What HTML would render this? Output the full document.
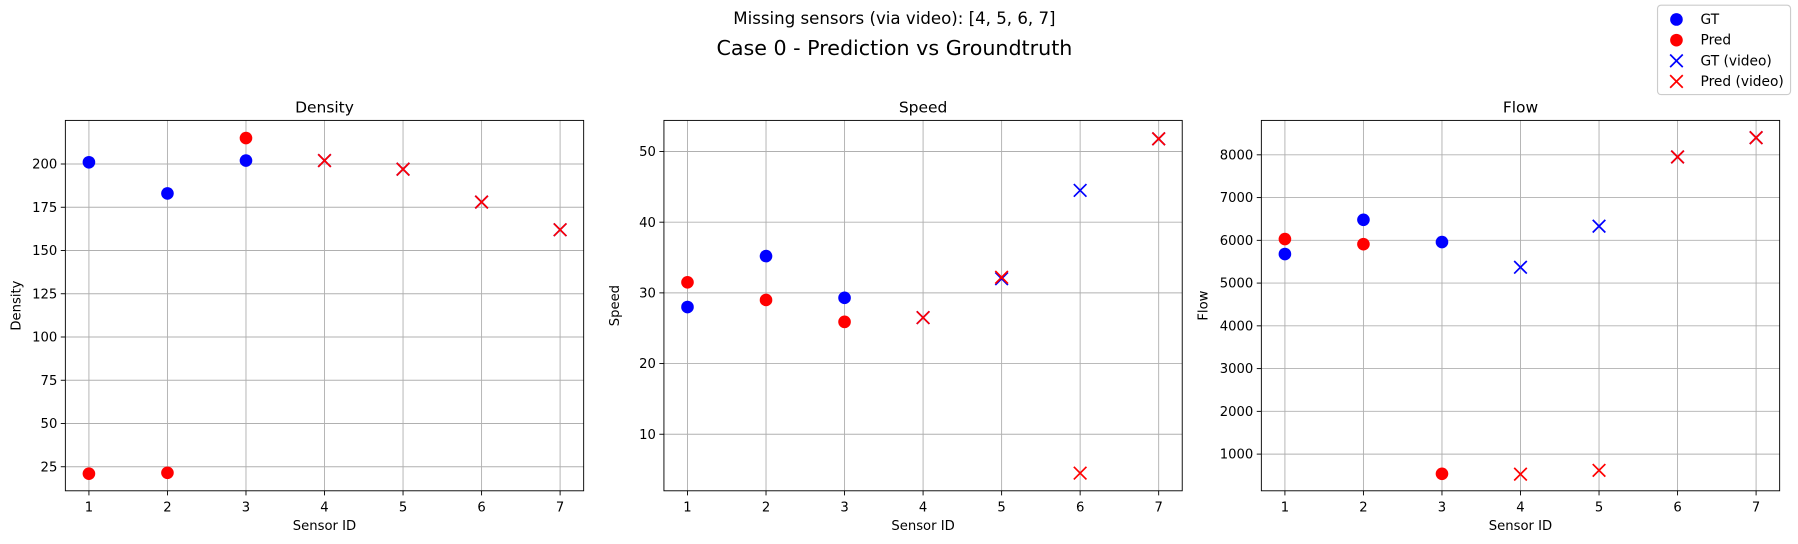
<!DOCTYPE html>
<html><head><meta charset="utf-8">
<style>
body{margin:0;background:#fff;}
svg{display:block;font-family:"DejaVu Sans","Liberation Sans",sans-serif;}
</style></head>
<body>
<svg id="fig" width="1798" height="544" viewBox="0 0 1568 474.4" preserveAspectRatio="none">
<text x="780" y="21" font-size="14.5" text-anchor="middle">Missing sensors (via video): [4, 5, 6, 7]</text>
<text x="780" y="48" font-size="18" text-anchor="middle">Case 0 - Prediction vs Groundtruth</text>
<g>
<rect x="1445.5" y="4.5" width="116" height="78" rx="3" fill="#fff" stroke="#ccc"/>
<circle cx="1462" cy="17" r="5.5" fill="#0000ff"/><text x="1483" y="21" font-size="12">GT</text>
<circle cx="1462" cy="35" r="5.5" fill="#ff0000"/><text x="1483" y="39" font-size="12">Pred</text>
<path d="M1456.5,47.5 l11,11 M1467.5,47.5 l-11,11" stroke="#0000ff" stroke-width="1.5"/><text x="1483" y="57" font-size="12">GT (video)</text>
<path d="M1456.5,65.5 l11,11 M1467.5,65.5 l-11,11" stroke="#ff0000" stroke-width="1.5"/><text x="1483" y="75" font-size="12">Pred (video)</text>
</g>
</svg>
<script>
const sensors=[1,2,3];
const videoSensors=[4,5,6,7];
const xTicks=[1,2,3,4,5,6,7];
const densityGT=[201,183,202];
const densityPred=[21,21.5,215];
const densityGTv=[202,197,178,162];
const densityPredv=[202,197,178,162];
const densityTicks=[25,50,75,100,125,150,175,200];
const speedGT=[28,35.2,29.3];
const speedPred=[31.5,29,25.9];
const speedGTv=[26.5,32,44.5,51.8];
const speedPredv=[26.5,32.2,4.5,51.8];
const speedTicks=[10,20,30,40,50];
const flowGT=[5680,6480,5960];
const flowPred=[6030,5910,540];
const flowGTv=[5370,6330,7950,8400];
const flowPredv=[530,620,7950,8400];
const flowTicks=[1000,2000,3000,4000,5000,6000,7000,8000];

const NS="http://www.w3.org/2000/svg";
const fig=document.getElementById('fig');
function mk(tag,attrs,parent){const e=document.createElementNS(NS,tag);for(const k in attrs)e.setAttribute(k,attrs[k]);(parent||fig).appendChild(e);return e;}
function panel(name,title,L,R,T,B,ymin,ymax,yt,gt,pr,gtv,prv){
  const g=mk('g',{});
  
  
  const xs=v=>L+(v-0.7)/6.6*(R-L);
  const ys=v=>B-(v-ymin)/(ymax-ymin)*(B-T);
  xTicks.forEach(t=>{const x=xs(t);
    mk('line',{x1:x,x2:x,y1:T,y2:B,stroke:'#b0b0b0','stroke-width':0.8},g);
    mk('line',{x1:x,x2:x,y1:B,y2:B+4,stroke:'#000','stroke-width':0.8},g);
    const tx=mk('text',{x:x,y:B+18,'font-size':11.5,'text-anchor':'middle'},g);tx.textContent=t;
    
    });
  yt.forEach(t=>{const y=ys(t);
    mk('line',{x1:L,x2:R,y1:y,y2:y,stroke:'#b0b0b0','stroke-width':0.8},g);
    mk('line',{x1:L-4,x2:L,y1:y,y2:y,stroke:'#000','stroke-width':0.8},g);
    const tx=mk('text',{x:L-7,y:y+4,'font-size':11.5,'text-anchor':'end'},g);tx.textContent=t;
    
    });
  mk('rect',{x:L,y:T,width:R-L,height:B-T,fill:'none',stroke:'#000','stroke-width':0.8},g);
  const tt=mk('text',{x:(L+R)/2,y:T-7,'font-size':13.5,'text-anchor':'middle'},g);tt.textContent=title;
  
  
  const xl=mk('text',{x:(L+R)/2,y:B+34,'font-size':11.5,'text-anchor':'middle'},g);xl.textContent='Sensor ID';
  
  
  const yx=L-(name==='flow'?47:39), ym=(T+B)/2;
  const yl=mk('text',{x:yx,y:ym,'font-size':11.5,'text-anchor':'middle',transform:`rotate(-90 ${yx} ${ym})`},g);yl.textContent=title;
  
  
  const dot=(arr,col)=>arr.forEach((v,i)=>{const c=mk('circle',{cx:xs(sensors[i]),cy:ys(v),r:5.5,fill:col},g);
    
    });
  const cross=(arr,col)=>arr.forEach((v,i)=>{const x=xs(videoSensors[i]),y=ys(v);
    const p=mk('path',{d:`M${x-5.5},${y-5.5}L${x+5.5},${y+5.5}M${x+5.5},${y-5.5}L${x-5.5},${y+5.5}`,stroke:col,'stroke-width':1.5},g);
    
    });
  dot(gt,'#0000ff');dot(pr,'#ff0000');cross(gtv,'#0000ff');cross(prv,'#ff0000');
}
panel('density','Density',57,509,105,428,11.1,225.2,densityTicks,densityGT,densityPred,densityGTv,densityPredv);
panel('speed','Speed',579,1031,105,428,2.0,54.4,speedTicks,speedGT,speedPred,speedGTv,speedPredv);
panel('flow','Flow',1100,1552,105,428,142,8805,flowTicks,flowGT,flowPred,flowGTv,flowPredv);
</script>
</body></html>
